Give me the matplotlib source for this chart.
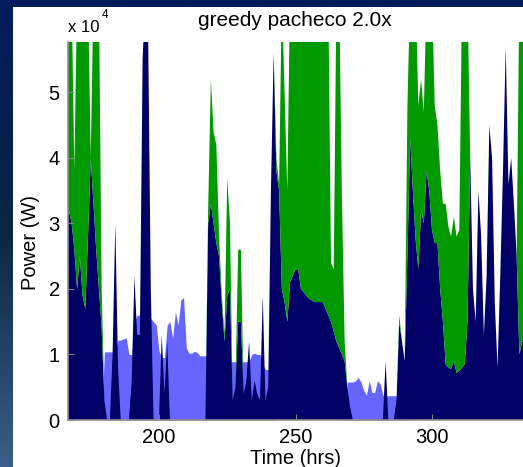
import numpy as np
import matplotlib
matplotlib.use("Agg")
import matplotlib.pyplot as plt
from matplotlib.patches import Rectangle
from matplotlib.colors import LinearSegmentedColormap

plt.rcParams["font.family"] = ["Liberation Sans", "DejaVu Sans"]

# Hourly samples, power in units of 1e4 W
hours = np.arange(166, 335)

navy_power = [
    3.3, 3.2, 3.0, 2.6, 2.0, 2.5, 1.9, 1.7, 2.8, 4.0,
    3.3, 2.6, 2.0, 1.4, 0.3, 0, 0, 1.0, 3.0, 0.8,
    0, 0, 0, 0, 0.6, 2.2, 1.3, 1.3, 5.5, 6.5,
    6.0, 2.0, 0, 0, 0, 1.3, 0.4, 1.2, 0, 0,
    0, 0, 0, 0, 0, 0, 0, 0, 0, 0,
    0, 0, 3.0, 3.3, 3.0, 2.7, 2.5, 1.8, 1.2, 1.9,
    2.0, 0.3, 0.5, 1.5, 1.5, 0.4, 0.6, 1.2, 0.3, 0.6,
    0.4, 0.3, 1.9, 0.3, 0.5, 3.5, 5.6, 3.8, 3.5, 2.0,
    1.8, 1.5, 2.1, 2.2, 2.3, 2.3, 2.0, 1.95, 1.9, 1.85,
    1.83, 1.8, 1.8, 1.8, 1.8, 1.7, 1.6, 1.5, 1.35, 1.2,
    1.1, 1.0, 0.9, 0.5, 0.2, 0, 0, 0, 0, 0,
    0, 0, 0, 0, 0, 0, 0, 0.9, 0, 0,
    0, 0.3, 1.5, 1.2, 0.9, 2.5, 4.3, 3.5, 2.75, 2.3,
    3.2, 3.0, 3.8, 3.5, 2.9, 2.7, 2.7, 2.0, 1.5, 0.85,
    0.8, 0.78, 0.9, 0.72, 0.75, 0.8, 0.85, 1.5, 4.0, 2.0,
    1.5, 3.5, 2.8, 1.3, 2.2, 4.5, 4.0, 1.8, 0.8, 2.2,
    3.8, 5.7, 3.6, 4.0, 3.3, 2.5, 1.0, 1.2, 1.2,
]

green_power = [
    3.2, 3.3, 3.5, 1.2, 4.5, 4.0, 4.6, 4.8, 3.7, 0,
    3.2, 3.9, 4.5, 0.6, 0, 0, 0, 0, 0, 0,
    0, 0, 0, 0, 0, 0, 0, 0, 0, 0,
    0, 0, 0, 0, 0, 0, 0, 0, 0, 0,
    0, 0, 0, 0, 0, 0, 0, 0, 0, 0,
    0, 0, 0.2, 1.9, 1.4, 1.5, 0.3, 0.1, 0.1, 1.8,
    1.0, 0, 0, 1.1, 1.1, 0, 0, 0, 0, 0,
    0, 0, 0, 0, 0, 0, 0, 0.2, 0.1, 4.5,
    3.2, 2.0, 4.4, 4.3, 4.2, 4.2, 4.5, 4.55, 4.6, 4.65,
    4.67, 4.7, 4.7, 4.7, 4.7, 4.8, 4.9, 0.9, 0.95, 5.3,
    5.4, 2.4, 0.3, 0, 0, 0, 0, 0, 0, 0,
    0, 0, 0, 0, 0, 0, 0, 0, 0, 0,
    0, 0, 0.1, 0, 0, 2.3, 2.2, 3.0, 3.75, 2.5,
    2.0, 1.7, 2.7, 3.0, 3.6, 2.1, 1.8, 1.8, 1.8, 2.45,
    2.15, 2.02, 2.2, 2.08, 2.15, 5.7, 5.65, 5.0, 0, 0,
    0, 0, 0, 0, 0, 0, 0, 0, 0, 0,
    0, 0, 0, 0, 0, 0, 5.5, 5.3, 5.3,
]

base_power = [
    0, 0, 0, 0, 0, 0, 0, 0, 0, 0,
    0, 0, 0, 0, 1.04, 1.04, 1.04, 1.04, 1.04, 1.22,
    1.22, 1.24, 1.25, 1.0, 1.0, 1.5, 1.6, 1.6, 1.6, 1.6,
    1.6, 1.55, 1.5, 1.45, 1.05, 0.96, 0.95, 1.45, 1.5, 1.25,
    1.65, 1.45, 1.83, 1.87, 1.1, 1.02, 1.02, 1.05, 1.03, 0.98,
    0.98, 0.98, 0.98, 0.95, 0.95, 0.9, 0.9, 0.9, 0.89, 0.89,
    0.89, 0.89, 0.89, 0.89, 0.89, 0.89, 0.89, 0.9, 1.0, 1.02,
    1.0, 1.0, 0.85, 0.77, 0.77, 0.7, 0.7, 0, 0, 0,
    0, 0, 0, 0, 0, 0, 0, 0, 0, 0,
    0, 0, 0, 0, 0, 0, 0, 0, 0, 0,
    0, 0, 0, 0.58, 0.58, 0.58, 0.6, 0.65, 0.58, 0.45,
    0.38, 0.6, 0.42, 0.42, 0.6, 0.55, 0.38, 0.37, 0.37, 0.37,
    0.37, 0.37, 0.37, 0.37, 0.3, 0, 0, 0, 0, 0,
    0, 0, 0, 0, 0, 0, 0, 0, 0, 0,
    0, 0, 0, 0, 0, 0, 0, 0, 0, 0,
    0, 0, 0, 0, 0, 0, 0, 0, 0, 0,
    0, 0, 0, 0, 0, 0, 0, 0, 0,
]

ytick_vals = [0, 1, 2, 3, 4, 5]
xtick_vals = [200, 250, 300]
scale = 1e4

W, H = 523, 467
fig = plt.figure(figsize=(W / 100, H / 100), dpi=100)

# slide-style backdrop: dark blue gradient frame around a white panel
bg = fig.add_axes([0, 0, 1, 1], zorder=-5)
bg_cmap = LinearSegmentedColormap.from_list(
    "frame", [(0.0, "#3b5e88"), (0.5, "#0a2742"), (0.8, "#021e52"), (1.0, "#011b5c")])
bg.imshow(np.linspace(0, 1, 256).reshape(-1, 1), aspect="auto", cmap=bg_cmap,
          origin="lower", extent=[0, 1, 0, 1])
bg.add_patch(Rectangle((13 / W, 0), 1, 1 - 7 / H, color="white", lw=0))
bg.set_xlim(0, 1)
bg.set_ylim(0, 1)
bg.set_axis_off()

ax = fig.add_axes([68 / W, 1 - 420 / H, 1 - 68 / W, (420 - 42) / H])
navy = np.array(navy_power) * scale
green = np.array(green_power) * scale
base = np.array(base_power) * scale

ax.fill_between(hours, 0, base, color="#6666ff", lw=0)
ax.stackplot(hours, navy, green, colors=["#000066", "#009900"], lw=0)

ax.set_xlim(166.67, 333.33)
ax.set_ylim(0, 5.77 * scale)
ax.set_xticks(xtick_vals)
ax.set_yticks([v * scale for v in ytick_vals])
ax.set_yticklabels([str(v) for v in ytick_vals])
ax.tick_params(direction="in", length=4, color="#808080", labelsize=14.5, pad=6)
for side in ("top", "right"):
    ax.spines[side].set_visible(False)
for side in ("left", "bottom"):
    ax.spines[side].set_color("#909090")
    ax.spines[side].set_linewidth(1.2)

fig.text(295 / W, 1 - 20 / H, "greedy pacheco 2.0x", ha="center", va="center", fontsize=15)
fig.text(31 / W, 1 - 242 / H, "Power (W)", ha="center", va="center", rotation=90, fontsize=14.5)
fig.text(295 / W, 1 - 458 / H, "Time (hrs)", ha="center", va="center", fontsize=14.5)
fig.text(68 / W, 1 - 28 / H, "x 10", ha="left", va="center", fontsize=12)
fig.text(102 / W, 1 - 15 / H, "4", ha="left", va="center", fontsize=8.5)

fig.savefig("out.png", dpi=100)
